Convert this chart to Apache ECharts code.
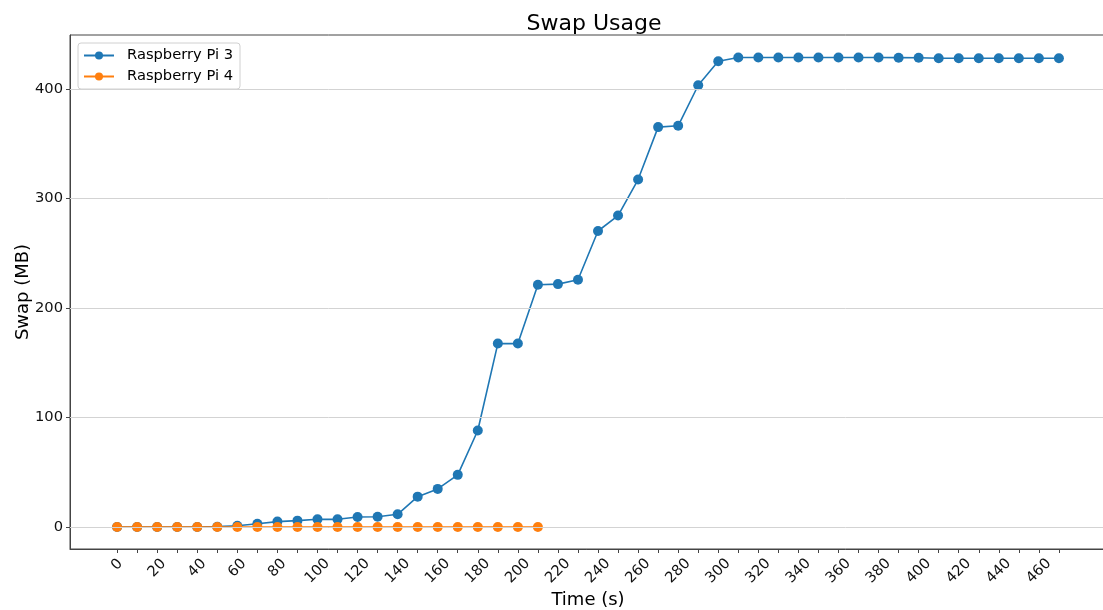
<!DOCTYPE html>
<html>
<head>
<meta charset="utf-8">
<script src="https://cdn.jsdelivr.net/npm/echarts@6/dist/echarts.min.js"></script>
<style>
html,body{margin:0;padding:0;background:#fff;}
#chart{width:1103px;height:610px;}
</style>
</head>
<body>
<div id="chart"></div>
<script>
var times = [0,10,20,30,40,50,60,70,80,90,100,110,120,130,140,150,160,170,180,190,200,210,220,230,240,250,260,270,280,290,300,310,320,330,340,350,360,370,380,390,400,410,420,430,440,450,460,470];
var pi3 = [0,0,0,0,0,0.3,1.2,3,4.9,5.8,7,7,9.1,9.4,11.6,27.7,34.8,47.6,88.1,167.5,167.5,221.2,221.8,225.8,270.3,284.4,317.3,365.2,366.4,403.4,425.3,428.7,428.7,428.7,428.7,428.7,428.7,428.7,428.7,428.6,428.5,428.1,428.1,428.1,428.1,428.1,428.1,428.1];
var pi4Times = [0,10,20,30,40,50,60,70,80,90,100,110,120,130,140,150,160,170,180,190,200,210];
var pi4 = [0,0,0,0,0,0,0,0,0,0,0,0,0,0,0,0,0,0,0,0,0,0];
var xTickValues = [0,10,20,30,40,50,60,70,80,90,100,110,120,130,140,150,160,170,180,190,200,210,220,230,240,250,260,270,280,290,300,310,320,330,340,350,360,370,380,390,400,410,420,430,440,450,460,470];
var xLabelValues = [0,20,40,60,80,100,120,140,160,180,200,220,240,260,280,300,320,340,360,380,400,420,440,460];
var yTickValues = [0,100,200,300,400];

var FONT = 'DejaVu Sans';
var TICKFS = 14.7;
var chart = echarts.init(document.getElementById('chart'), null, {renderer:'canvas'});
function pairs(xs, ys){ return xs.map(function(x,i){ return [x, ys[i]]; }); }
chart.setOption({
  animation:false,
  backgroundColor:'#fff',
  textStyle:{fontFamily:FONT},
  title:{text:'Swap Usage', left:589, top:8, textAlign:'center',
    textStyle:{fontFamily:FONT, fontSize:22, fontWeight:'normal', color:'#000'}},
  legend:{
    left:78, top:43, orient:'vertical', itemGap:6, itemWidth:30, itemHeight:10,
    padding:[5,7,5,5], borderColor:'#d0d0d0', borderWidth:1, borderRadius:3,
    backgroundColor:'rgba(255,255,255,0.8)',
    textStyle:{fontFamily:FONT, fontSize:TICKFS, color:'#000', padding:[0,0,0,8]},
    data:['Raspberry Pi 3','Raspberry Pi 4']
  },
  grid:{left:70, right:-3, top:35, bottom:61, outerBoundsMode:'none', containLabel:false,
    show:true, borderColor:'#444', borderWidth:1, backgroundColor:'transparent'},
  xAxis:{
    type:'value', min:-23.5, max:493.5,
    name:'Time (s)', nameLocation:'middle', nameGap:42, nameMoveOverlap:false,
    nameTextStyle:{fontFamily:FONT, fontSize:18, color:'#000'},
    axisLine:{show:true, onZero:false, lineStyle:{color:'#444', width:1}},
    axisTick:{show:true, customValues:xTickValues, length:4, lineStyle:{color:'#444'}},
    axisLabel:{customValues:xLabelValues, rotate:45, margin:22, align:'center', verticalAlign:'middle',
      fontFamily:FONT, fontSize:TICKFS, color:'#111',
      formatter:function(v){ var s=String(v); if(s.length===1) return '{a|'+s+'}'; if(s.length===2) return '{b|'+s+'}'; return s; },
      rich:{
        a:{fontFamily:FONT, fontSize:TICKFS, color:'#111', padding:[0,0,9,9]},
        b:{fontFamily:FONT, fontSize:TICKFS, color:'#111', padding:[0,0,4,4]}
      }},
    splitLine:{show:false}
  },
  yAxis:{
    type:'value', min:-20.1, max:449.3,
    name:'Swap (MB)', nameLocation:'middle', nameGap:38, nameMoveOverlap:false,
    nameTextStyle:{fontFamily:FONT, fontSize:18, color:'#000'},
    axisLine:{show:true, onZero:false, lineStyle:{color:'#444', width:1}},
    axisTick:{show:true, customValues:yTickValues, length:4, lineStyle:{color:'#444'}},
    axisLabel:{customValues:yTickValues, margin:7, fontFamily:FONT, fontSize:TICKFS, color:'#111'},
    splitLine:{show:false}
  },
  series:[
    {name:'Raspberry Pi 3', type:'line', data:pairs(times, pi3), color:'#1f77b4',
     symbol:'circle', symbolSize:10, showAllSymbol:true, lineStyle:{width:1.6}, itemStyle:{color:'#1f77b4'},
     markLine:{silent:true, symbol:'none', label:{show:false}, animation:false,
       lineStyle:{color:'#d3d3d3', type:'solid', width:1},
       data: yTickValues.map(function(v){ return {yAxis:v}; })},
     z:2},
    {name:'Raspberry Pi 4', type:'line', data:pairs(pi4Times, pi4), color:'#ff7f0e',
     symbol:'circle', symbolSize:10, showAllSymbol:true, lineStyle:{width:1.6}, itemStyle:{color:'#ff7f0e'}, z:3}
  ]
});
</script>
</body>
</html>
